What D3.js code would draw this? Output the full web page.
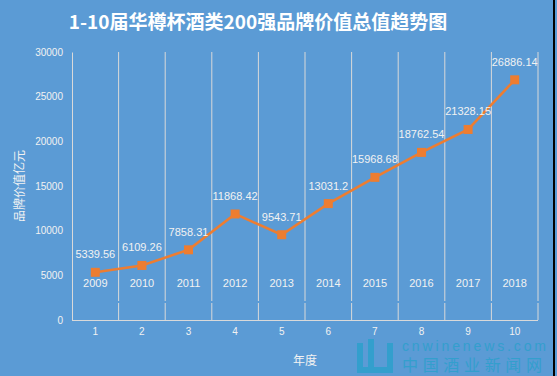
<!DOCTYPE html>
<html>
<head>
<meta charset="utf-8">
<script src="https://cdn.jsdelivr.net/npm/d3@7"></script>
<style>
  body { margin: 0; background: #5b9bd5; }
  text { font-family: "Liberation Sans", "Noto Sans CJK SC", sans-serif; }
</style>
</head>
<body>
<script>
const idx = [1, 2, 3, 4, 5, 6, 7, 8, 9, 10];
const years = ["2009", "2010", "2011", "2012", "2013", "2014", "2015", "2016", "2017", "2018"];
const values = [5339.56, 6109.26, 7858.31, 11868.42, 9543.71, 13031.2, 15968.68, 18762.54, 21328.15, 26886.14];
const labels = ["5339.56", "6109.26", "7858.31", "11868.42", "9543.71", "13031.2", "15968.68", "18762.54", "21328.15", "26886.14"];
const yTicks = [0, 5000, 10000, 15000, 20000, 25000, 30000];

const width = 557,
    height = 376;
const plotL = 72, plotR = 538, plotT = 52, plotB = 320;
const txt = "#f2f2f2", grid = "#d9d9d9", orange = "#ed7d31";

const svg = d3.select("body").append("svg")
    .attr("width", width)
    .attr("height", height);

svg.append("rect")
    .attr("width", width)
    .attr("height", height)
    .attr("fill", "#5b9bd5");

// right border
svg.append("rect")
    .attr("x", 553).attr("y", 0)
    .attr("width", 2).attr("height", height)
    .attr("fill", "#000");

svg.append("text")
    .attr("x", 258)
    .attr("y", 29)
    .attr("text-anchor", "middle")
    .style("font-family", "'Noto Sans CJK SC', sans-serif")
    .style("font-size", "19px")
    .style("font-weight", "bold")
    .style("fill", "#fff")
    .text("1-10届华樽杯酒类200强品牌价值总值趋势图");

const x = d3.scaleBand().domain(idx).range([plotL, plotR]);
const y = d3.scaleLinear().domain([0, 30000]).range([plotB, plotT]);

// vertical grid lines at band edges (small gap near bottom)
const edges = idx.map(d => x(d) + x.bandwidth());
edges.forEach(function (ex) {
    svg.append("line")
        .attr("x1", ex).attr("x2", ex)
        .attr("y1", plotT).attr("y2", 301)
        .attr("stroke", grid);
    svg.append("line")
        .attr("x1", ex).attr("x2", ex)
        .attr("y1", 303).attr("y2", plotB)
        .attr("stroke", grid);
});

// axes
const yAxis = svg.append("g")
    .attr("transform", `translate(${plotL},0)`)
    .call(d3.axisLeft(y).tickValues(yTicks).tickFormat(d3.format("d")).tickSize(0).tickPadding(9));
yAxis.select(".domain").attr("stroke", grid);
yAxis.selectAll("text").style("fill", txt).style("font-size", "10px");

const xAxis = svg.append("g")
    .attr("transform", `translate(0,${plotB})`)
    .call(d3.axisBottom(x).tickSize(0).tickPadding(8));
xAxis.select(".domain").attr("stroke", grid).attr("d", `M${plotL},0.5H${plotR}`);
xAxis.selectAll("text").style("fill", txt).style("font-size", "10px");

// year labels inside bands
svg.selectAll(".year")
    .data(years)
    .enter().append("text")
    .attr("class", "year")
    .attr("x", (d, i) => x(idx[i]) + x.bandwidth() / 2)
    .attr("y", 287)
    .attr("text-anchor", "middle")
    .style("fill", txt)
    .style("font-size", "11px")
    .text(d => d);

// axis titles
svg.append("text")
    .attr("transform", "translate(24,186) rotate(-90)")
    .attr("text-anchor", "middle")
    .style("font-family", "'Noto Sans CJK SC', sans-serif")
    .style("font-size", "12px")
    .style("fill", txt)
    .text("品牌价值亿元");

svg.append("text")
    .attr("x", 305)
    .attr("y", 365)
    .attr("text-anchor", "middle")
    .style("font-family", "'Noto Sans CJK SC', sans-serif")
    .style("font-size", "12px")
    .style("fill", txt)
    .text("年度");

// line + markers
const pts = values.map((v, i) => [x(idx[i]) + x.bandwidth() / 2, y(v)]);

svg.append("path")
    .datum(pts)
    .attr("d", d3.line())
    .attr("fill", "none")
    .attr("stroke", orange)
    .attr("stroke-width", 2.5);

svg.selectAll(".mark")
    .data(pts)
    .enter().append("rect")
    .attr("x", d => d[0] - 4.5)
    .attr("y", d => d[1] - 4.5)
    .attr("width", 9)
    .attr("height", 9)
    .attr("fill", orange);

svg.selectAll(".lbl")
    .data(labels)
    .enter().append("text")
    .attr("x", (d, i) => pts[i][0])
    .attr("y", (d, i) => pts[i][1] - 14)
    .attr("text-anchor", "middle")
    .style("fill", txt)
    .style("font-size", "11px")
    .text(d => d);

// watermark
const wm = svg.append("g").attr("fill", "#2aa0cc").attr("opacity", 0.8);
wm.append("rect").attr("x", 357).attr("y", 343).attr("width", 6).attr("height", 30);
wm.append("rect").attr("x", 368).attr("y", 339).attr("width", 6).attr("height", 34);
wm.append("rect").attr("x", 357).attr("y", 367).attr("width", 36).attr("height", 6);
wm.append("rect").attr("x", 387).attr("y", 343).attr("width", 6).attr("height", 30);
wm.append("text")
    .attr("x", 402).attr("y", 351)
    .attr("textLength", 144)
    .style("font-size", "14px")
    .text("cnwinenews.com");
wm.append("text")
    .attr("x", 402).attr("y", 371)
    .attr("textLength", 140)
    .style("font-family", "'Noto Sans CJK SC', sans-serif")
    .style("font-size", "16px")
    .text("中国酒业新闻网");
</script>
</body>
</html>
